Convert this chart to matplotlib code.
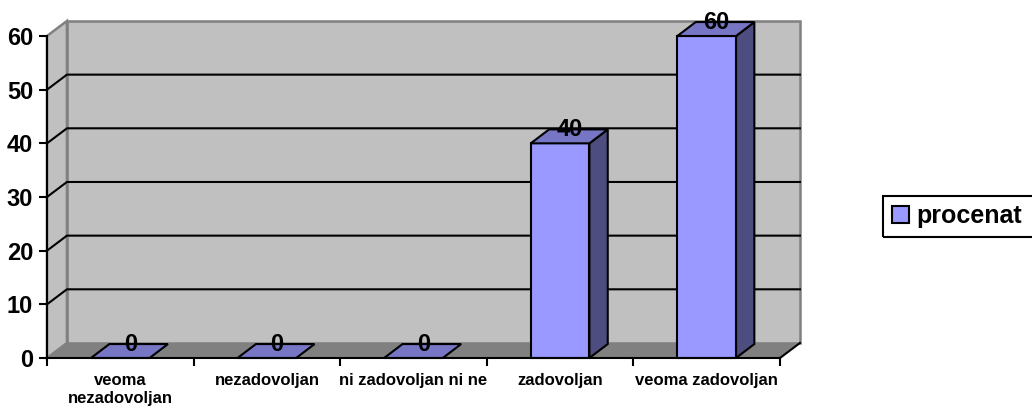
import matplotlib.pyplot as plt
from matplotlib.patches import Polygon, Rectangle, Patch

plt.rcParams['font.family'] = ['Liberation Sans', 'DejaVu Sans']
plt.rcParams['font.weight'] = 'bold'

# data
categories = ['veoma\nnezadovoljan', 'nezadovoljan', 'ni zadovoljan ni ne',
              'zadovoljan', 'veoma zadovoljan']
procenat = [0, 0, 0, 40, 60]
y_ticks = [0, 10, 20, 30, 40, 50, 60]
series_name = 'procenat'

# 3d look (depth offsets in data units)
dx, dy = 0.136, 2.8      # wall depth
bdx, bdy = 0.125, 2.6    # bar depth
bw = 0.4                 # bar width

c_front = '#9999FF'
c_top = '#7676C4'
c_side = '#4D4D80'
c_wall = '#C0C0C0'
c_floor = '#808080'

fig = plt.figure(figsize=(10.32, 4.11), dpi=100)
ax = fig.add_axes([47 / 1032, 53 / 411, 733 / 1032, 322 / 411])
ax.set_xlim(-0.5, 4.5)
ax.set_ylim(0, 60)
ax.patch.set_visible(False)

x0, x1 = -0.5, len(categories) - 0.5
top = y_ticks[-1]

# back wall, side wall, floor
ax.add_patch(Rectangle((x0 + dx, dy), x1 - x0, top, facecolor=c_wall,
                       edgecolor=c_floor, lw=1.8, clip_on=False, zorder=0))
ax.add_patch(Polygon([(x0, 0), (x0 + dx, dy), (x0 + dx, top + dy), (x0, top)],
                     facecolor=c_wall, edgecolor=c_floor, lw=1.8,
                     clip_on=False, zorder=0))
ax.add_patch(Polygon([(x0, 0), (x1, 0), (x1 + dx, dy), (x0 + dx, dy)],
                     facecolor=c_floor, edgecolor='none', clip_on=False,
                     zorder=1))
ax.plot([x1, x1 + dx], [0, dy], color='black', lw=1.5, clip_on=False, zorder=2)

# grid lines (top one is the wall edge itself)
for v in y_ticks[1:-1]:
    ax.plot([x0, x0 + dx, x1 + dx], [v, v + dy, v + dy], color='black',
            lw=1.5, clip_on=False, zorder=1)

# bars
for i, v in enumerate(procenat):
    l, r = i - bw / 2, i + bw / 2
    if v > 0:
        ax.add_patch(Polygon([(r, 0), (r + bdx, bdy), (r + bdx, v + bdy), (r, v)],
                             facecolor=c_side, edgecolor='black', lw=1.5,
                             clip_on=False, zorder=3))
        ax.add_patch(Rectangle((l, 0), bw, v, facecolor=c_front,
                               edgecolor='black', lw=1.5, clip_on=False,
                               zorder=3))
    ax.add_patch(Polygon([(l, v), (r, v), (r + bdx, v + bdy), (l + bdx, v + bdy)],
                         facecolor=c_top, edgecolor='black', lw=1.5,
                         clip_on=False, zorder=3))
    ax.text(i + 0.068, v + 2.6, str(v), ha='center', va='center',
            fontsize=17, fontweight='bold', zorder=5)

# axes
for s in ['top', 'right']:
    ax.spines[s].set_visible(False)
for s in ['left', 'bottom']:
    ax.spines[s].set_linewidth(1.5)
    ax.spines[s].set_zorder(4)
ax.set_yticks(y_ticks)
ax.tick_params(axis='y', labelsize=17, length=6, width=1.5, pad=4)
ax.set_xticks([i - 0.5 for i in range(len(categories) + 1)])
ax.set_xticklabels([])
ax.tick_params(axis='x', which='major', length=6, width=1.5)
ax.set_xticks(range(len(categories)), minor=True)
ax.set_xticklabels(categories, minor=True, fontsize=12, fontweight='bold')
ax.tick_params(axis='x', which='minor', length=0, pad=11)

# legend (frame runs past the right edge, as in the original)
leg = fig.legend(handles=[Patch(facecolor=c_front, edgecolor='black', lw=1.5,
                                label=series_name)],
                 loc='lower left', bbox_to_anchor=(883 / 1032, 174 / 411),
                 fontsize=18, frameon=False, borderpad=0.35,
                 handlelength=0.7, handleheight=0.7, handletextpad=0.3,
                 borderaxespad=0)
for t in leg.get_texts():
    t.set_fontweight('bold')
fig.patches.append(Rectangle((883 / 1032, 174 / 411), 0.2, 41 / 411,
                             transform=fig.transFigure, facecolor='none',
                             edgecolor='black', lw=1.5))

fig.savefig('out.png', dpi=100)
